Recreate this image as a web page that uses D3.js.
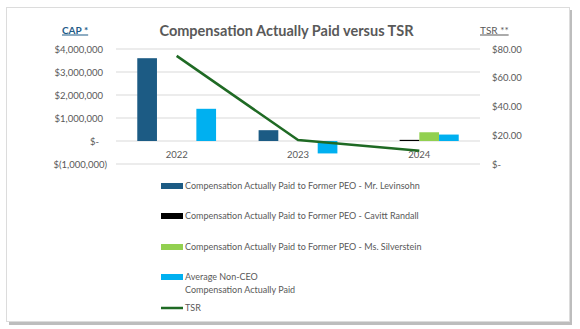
<!DOCTYPE html>
<html><head><meta charset="utf-8">
<script src="https://cdn.jsdelivr.net/npm/d3@7"></script>
<style>
html,body{margin:0;padding:0;background:#fff;}
svg{display:block;font-family:Lato,"Open Sans",sans-serif;}
</style></head>
<body><svg id="c" width="580" height="329"></svg>
<script>
const years = ["2022", "2023", "2024"];
const seriesNames = [
  "Compensation Actually Paid to Former PEO - Mr. Levinsohn",
  "Compensation Actually Paid to Former PEO - Cavitt Randall",
  "Compensation Actually Paid to Former PEO - Ms. Silverstein",
  "Average Non-CEO Compensation Actually Paid"
];
const levinsohn = [3600000, 470000, 0];
const cavitt = [0, 0, 50000];
const silverstein = [0, 0, 380000];
const nonCeo = [1400000, -540000, 280000];
const tsr = [75.2, 16.7, 9.3];
const capTicks = [-1000000, 0, 1000000, 2000000, 3000000, 4000000];
const tsrTicks = [0, 20, 40, 60, 80];
const colors = ["#1c5b84", "#000000", "#92d050", "#00b0f0"];
const tsrColor = "#1f6a24";
const textGray = "#595959";

const svg = d3.select("#c");
// card
svg.append("rect").attr("x", 9).attr("y", 10).attr("width", 563).attr("height", 315).attr("fill", "#bdbdbd");
svg.append("rect").attr("x", 6.5).attr("y", 7.5).attr("width", 563).attr("height", 314)
  .attr("fill", "#fff").attr("stroke", "#dcdcdc").attr("stroke-width", 1);

const xL = 116, xR = 480;
const x = d3.scaleBand().domain(years).range([xL, xR]).paddingInner(0).paddingOuter(0);
const xs = d3.scaleBand().domain(d3.range(4)).range([0, x.bandwidth()]).paddingInner(0).paddingOuter(1.08);
const y = d3.scaleLinear().domain([-1000000, 4000000]).range([164, 49]);
const yR = d3.scaleLinear().domain([0, 80]).range([164, 49]);

// gridlines
svg.append("g").selectAll("line").data(capTicks).join("line")
  .attr("x1", xL).attr("x2", xR).attr("y1", d => y(d)).attr("y2", d => y(d))
  .attr("stroke", "#d9d9d9").attr("stroke-width", 1);

const fmt = d3.format(",");
const leftAxis = d3.axisLeft(y).tickValues(capTicks).tickSize(0).tickPadding(13)
  .tickFormat(v => v === 0 ? "$-" : v < 0 ? "$(" + fmt(-v) + ")" : "$" + fmt(v));
const gl = svg.append("g").attr("transform", `translate(${xL},0)`).call(leftAxis);
gl.select(".domain").remove();
gl.selectAll("text").attr("fill", textGray).style("font-size", "9.5px").style("font-family", "Lato")
  .attr("dx", d => d === 0 ? -4 : d < 0 ? 4 : 0);

const rightAxis = d3.axisRight(yR).tickValues(tsrTicks).tickSize(0).tickPadding(12)
  .tickFormat(v => v === 0 ? "$-" : "$" + v.toFixed(2));
const gr = svg.append("g").attr("transform", `translate(${xR},0)`).call(rightAxis);
gr.select(".domain").remove();
gr.selectAll("text").attr("fill", textGray).style("font-size", "9.5px").style("font-family", "Lato");

// bars
const allSeries = [levinsohn, cavitt, silverstein, nonCeo];
allSeries.forEach((vals, si) => {
  svg.append("g").selectAll("rect").data(vals.map((v, i) => ({v, yr: years[i]}))).join("rect")
    .attr("x", d => x(d.yr) + xs(si))
    .attr("width", xs.bandwidth())
    .attr("y", d => y(Math.max(0, d.v)))
    .attr("height", d => Math.abs(y(d.v) - y(0)))
    .attr("fill", colors[si]);
});

// category labels
svg.append("g").selectAll("text").data(years).join("text")
  .attr("x", d => x(d) + x.bandwidth() / 2).attr("y", 157.5)
  .attr("text-anchor", "middle").attr("fill", textGray)
  .style("font-size", "9.5px").text(d => d);

// TSR line
const line = d3.line().x((d, i) => x(years[i]) + x.bandwidth() / 2).y(d => yR(d));
svg.append("path").datum(tsr).attr("d", line).attr("fill", "none")
  .attr("stroke", tsrColor).attr("stroke-width", 2.5).attr("stroke-linejoin", "round");

// title
svg.append("text").attr("x", 286.5).attr("y", 36).attr("text-anchor", "middle")
  .attr("fill", textGray).style("font-size", "14.5px").style("font-weight", "bold")
  .text("Compensation Actually Paid versus TSR");
svg.append("text").attr("x", 62).attr("y", 33.5).attr("fill", "#1f5c88")
  .style("font-size", "10px").style("font-weight", "bold").style("text-decoration", "underline")
  .text("CAP *");
svg.append("text").attr("x", 480).attr("y", 33.5).attr("fill", textGray)
  .style("font-size", "10px").style("text-decoration", "underline")
  .text("TSR **");

// legend
const legendItems = [
  {lines: [seriesNames[0]], color: colors[0], y: 186},
  {lines: [seriesNames[1]], color: colors[1], y: 216},
  {lines: [seriesNames[2]], color: colors[2], y: 247},
  {lines: ["Average Non-CEO", "Compensation Actually Paid"], color: colors[3], y: 277},
];
const lg = svg.append("g");
legendItems.forEach(it => {
  lg.append("rect").attr("x", 161).attr("y", it.y - 3).attr("width", 22).attr("height", 6).attr("fill", it.color);
  it.lines.forEach((t, k) => {
    lg.append("text").attr("x", 185).attr("y", it.y + 3.3 + k * 12.5).attr("fill", textGray)
      .style("font-size", "9px").text(t);
  });
});
lg.append("line").attr("x1", 161).attr("x2", 183).attr("y1", 308).attr("y2", 308)
  .attr("stroke", tsrColor).attr("stroke-width", 2.5);
lg.append("text").attr("x", 185).attr("y", 311.3).attr("fill", textGray).style("font-size", "9px").text("TSR");
</script></body></html>
